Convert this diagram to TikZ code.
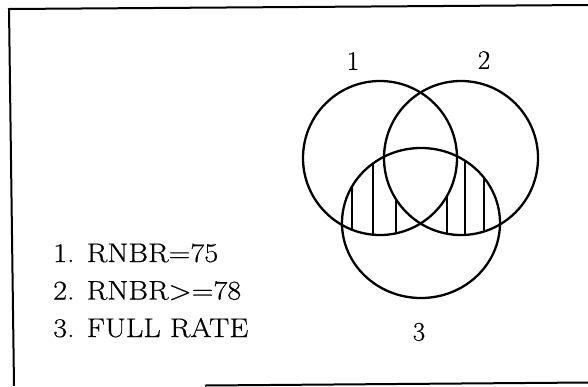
\documentclass[tikz,border=0pt]{standalone}
\usepackage{fontspec}
\usepackage{graphicx}
\newfontfamily\scanfont{Latin Modern Roman}[FakeBold=0.5]
\begin{document}
\begin{tikzpicture}[x=1pt,y=-1pt,
  frameline/.style={line width=2pt},
  venn/.style={line width=2.3pt},
  hatchline/.style={line width=1.9pt},
  lbl/.style={inner sep=0pt,font=\scanfont\fontsize{27}{30}\selectfont},
  item/.style={inner sep=0pt,anchor=base west,font=\scanfont\fontsize{27}{30}\selectfont}]
\useasboundingbox (0,0) rectangle (588,386);
% frame (open on the right, as scanned)
\coordinate (ftl) at (9,9);
\coordinate (ftr) at (588,5);
\coordinate (fbl) at (14,386);
\coordinate (fbs) at (205,385.5);
\coordinate (fbr) at (588,382.5);
\draw[frameline] (ftr) -- (ftl) -- (fbl);
\draw[frameline] (fbs) -- (fbr);
% hatching: circle 3 intersected with (circle 1 xor circle 2)
\begin{scope}[even odd rule]
  \clip (421,223) ellipse [x radius=79pt, y radius=75pt];
  \clip (380,158) circle (77pt) (461,158) circle (77pt);
  \foreach \hx in {352,373,396,447,465,484}
    \draw[hatchline] (\hx,120) -- (\hx,245);
\end{scope}
% circles
\draw[venn] (380,158) circle (77pt);
\draw[venn] (461,158) circle (77pt);
\draw[venn] (421,223) ellipse [x radius=79pt, y radius=75pt];
% circle labels
\node[lbl] (l1) at (353,61) {1};
\node[lbl] (l2) at (484,60) {2};
\node[lbl] (l3) at (419,332) {3};
% legend
\node[item] (t1) at (53,262) {\scalebox{1.12}[1]{1. RNBR=75}};
\node[item] (t2) at (53,299.5) {\scalebox{1.12}[1]{2. RNBR>=78}};
\node[item] (t3) at (53,337) {\scalebox{1.12}[1]{3. FULL RATE}};
\end{tikzpicture}
\end{document}
